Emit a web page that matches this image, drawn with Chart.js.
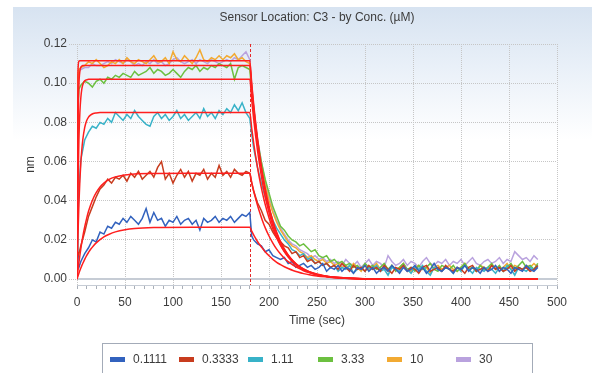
<!DOCTYPE html>
<html><head><meta charset="utf-8">
<script src="https://cdn.jsdelivr.net/npm/chart.js@4"></script>
<style>html,body{margin:0;padding:0;background:#fff;}#wrap{width:592px;height:373px;position:relative;}</style>
</head><body><div id="wrap"><canvas id="c" width="592" height="373"></canvas></div>
<script>
const chartTitle = 'Sensor Location: C3 - by Conc. (\u00b5M)';
const xTitle = 'Time (sec)';
const yTitle = 'nm';
const seriesLabels = ['0.1111', '0.3333', '1.11', '3.33', '10', '30'];
const seriesColors = ['#3262be', '#c83c1e', '#38b2c8', '#6cc040', '#f2aa32', '#b9a2de'];
const fitColor = '#ff1e1e';
const injectionEnd = 180;
const yTickValues = [0, 0.02, 0.04, 0.06, 0.08, 0.10, 0.12];
const xTickValues = [0,10,20,30,40,50,60,70,80,90,100,110,120,130,140,150,160,170,180,190,200,
  210,220,230,240,250,260,270,280,290,300,310,320,330,340,350,360,370,380,390,400,
  410,420,430,440,450,460,470,480,490,500];
const xLabelValues = [0, 50, 100, 150, 200, 250, 300, 350, 400, 450, 500];

// measured sensorgram time base (sec)
const time = [
  0,1,2,4,8,12,16,20,24,28,
  32,36,40,44,48,52,56,60,64,68,
  72,76,80,84,88,92,96,100,104,108,
  112,116,120,124,128,132,136,140,144,148,
  152,156,160,164,168,172,176,180,182,184,
  188,192,196,200,204,208,212,216,220,224,
  228,232,236,240,244,248,252,256,260,264,
  268,272,276,280,284,288,292,296,300,304,
  308,312,316,320,324,328,332,336,340,344,
  348,352,356,360,364,368,372,376,380,384,
  388,392,396,400,404,408,412,416,420,424,
  428,432,436,440,444,448,452,456,460,464,
  468,472,476,480];

const s0111 = [
  0.012,0.009,0.006,0.009,0.013,0.016,0.020,0.019,0.024,0.023,
  0.027,0.026,0.029,0.028,0.031,0.029,0.032,0.030,0.028,0.031,
  0.036,0.029,0.034,0.030,0.031,0.027,0.030,0.029,0.032,0.028,
  0.030,0.031,0.028,0.030,0.025,0.031,0.029,0.030,0.032,0.029,
  0.031,0.030,0.032,0.029,0.031,0.033,0.032,0.034,0.022,0.020,
  0.018,0.017,0.014,0.015,0.012,0.011,0.010,0.011,0.008,0.009,
  0.006,0.007,0.008,0.006,0.007,0.005,0.006,0.008,0.004,0.006,
  0.005,0.007,0.004,0.006,0.005,0.003,0.006,0.005,0.007,0.004,
  0.006,0.003,0.005,0.006,0.004,0.007,0.005,0.003,0.006,0.004,
  0.005,0.007,0.004,0.006,0.003,0.005,0.008,0.005,0.004,0.006,
  0.005,0.003,0.006,0.005,0.007,0.004,0.006,0.005,0.003,0.006,
  0.004,0.005,0.007,0.004,0.006,0.005,0.003,0.006,0.005,0.004,
  0.007,0.005,0.004,0.006];

const s0333 = [
  0.014,0.011,0.013,0.017,0.024,0.032,0.037,0.042,0.046,0.048,
  0.051,0.049,0.052,0.051,0.053,0.050,0.054,0.052,0.055,0.051,
  0.053,0.055,0.052,0.057,0.060,0.051,0.054,0.049,0.053,0.056,
  0.052,0.055,0.050,0.054,0.053,0.056,0.051,0.054,0.052,0.058,
  0.053,0.055,0.052,0.056,0.054,0.053,0.055,0.054,0.049,0.045,
  0.039,0.035,0.030,0.028,0.024,0.021,0.019,0.017,0.016,0.013,
  0.014,0.011,0.012,0.009,0.010,0.008,0.009,0.007,0.008,0.006,
  0.007,0.005,0.008,0.006,0.004,0.007,0.005,0.006,0.004,0.007,
  0.005,0.006,0.004,0.007,0.005,0.003,0.006,0.005,0.007,0.004,
  0.006,0.005,0.003,0.006,0.007,0.004,0.005,0.006,0.004,0.007,
  0.005,0.004,0.006,0.005,0.003,0.006,0.007,0.004,0.005,0.006,
  0.004,0.007,0.005,0.006,0.004,0.005,0.007,0.004,0.006,0.005,
  0.006,0.004,0.005,0.007];

const s111 = [
  0.012,0.032,0.046,0.061,0.071,0.075,0.078,0.077,0.080,0.079,
  0.082,0.080,0.085,0.083,0.081,0.084,0.082,0.086,0.083,0.081,
  0.079,0.078,0.083,0.085,0.082,0.084,0.081,0.083,0.086,0.082,
  0.084,0.081,0.083,0.085,0.082,0.087,0.083,0.085,0.082,0.086,
  0.084,0.087,0.085,0.089,0.086,0.090,0.085,0.082,0.074,0.067,
  0.057,0.049,0.042,0.036,0.030,0.026,0.023,0.020,0.018,0.015,
  0.014,0.012,0.013,0.010,0.011,0.008,0.009,0.007,0.008,0.006,
  0.007,0.004,0.006,0.005,0.007,0.003,0.005,0.006,0.004,0.006,
  0.005,0.007,0.004,0.005,0.002,0.006,0.005,0.004,0.007,0.005,
  0.003,0.006,0.005,0.007,0.004,0.002,0.006,0.005,0.004,0.006,
  0.005,0.003,0.006,0.004,0.007,0.005,0.003,0.006,0.005,0.004,
  0.006,0.005,0.003,0.006,0.004,0.007,0.005,0.002,0.006,0.005,
  0.004,0.006,0.005,0.007];

const s333 = [
  0.030,0.088,0.097,0.099,0.101,0.100,0.098,0.101,0.102,0.100,
  0.103,0.102,0.104,0.103,0.105,0.104,0.103,0.106,0.104,0.105,
  0.106,0.108,0.105,0.107,0.106,0.104,0.105,0.107,0.105,0.103,
  0.106,0.108,0.107,0.109,0.106,0.108,0.107,0.109,0.108,0.110,
  0.109,0.108,0.110,0.102,0.108,0.109,0.108,0.107,0.096,0.085,
  0.071,0.060,0.051,0.044,0.037,0.032,0.027,0.025,0.022,0.020,
  0.019,0.017,0.018,0.016,0.014,0.015,0.012,0.011,0.012,0.009,
  0.010,0.008,0.009,0.007,0.008,0.006,0.007,0.005,0.008,0.006,
  0.007,0.005,0.006,0.008,0.005,0.007,0.004,0.006,0.008,0.005,
  0.006,0.004,0.007,0.005,0.006,0.008,0.005,0.004,0.007,0.006,
  0.005,0.007,0.004,0.006,0.008,0.005,0.006,0.004,0.007,0.005,
  0.006,0.008,0.005,0.007,0.004,0.006,0.008,0.005,0.007,0.009,
  0.006,0.007,0.005,0.008];

const s10 = [
  0.040,0.104,0.107,0.108,0.109,0.111,0.110,0.112,0.110,0.108,
  0.109,0.111,0.110,0.112,0.110,0.113,0.111,0.110,0.112,0.111,
  0.110,0.112,0.114,0.111,0.111,0.113,0.110,0.116,0.112,0.111,
  0.114,0.112,0.110,0.113,0.117,0.112,0.111,0.113,0.112,0.114,
  0.112,0.114,0.113,0.115,0.112,0.113,0.111,0.110,0.098,0.087,
  0.070,0.058,0.048,0.040,0.034,0.029,0.025,0.022,0.019,0.017,
  0.016,0.014,0.013,0.011,0.012,0.010,0.009,0.010,0.008,0.009,
  0.007,0.008,0.006,0.007,0.005,0.008,0.006,0.004,0.007,0.005,
  0.006,0.008,0.005,0.006,0.004,0.007,0.005,0.006,0.008,0.005,
  0.004,0.006,0.007,0.005,0.006,0.003,0.006,0.007,0.005,0.006,
  0.007,0.005,0.004,0.006,0.008,0.005,0.006,0.004,0.007,0.006,
  0.005,0.007,0.006,0.004,0.006,0.008,0.005,0.007,0.006,0.005,
  0.007,0.006,0.008,0.006];

const s30 = [
  0.045,0.103,0.106,0.107,0.108,0.108,0.110,0.109,0.109,0.110,
  0.111,0.110,0.112,0.111,0.110,0.112,0.111,0.109,0.110,0.109,
  0.111,0.110,0.112,0.110,0.111,0.109,0.110,0.112,0.113,0.111,
  0.110,0.111,0.112,0.110,0.112,0.111,0.110,0.112,0.111,0.110,
  0.111,0.112,0.111,0.113,0.112,0.114,0.116,0.112,0.099,0.088,
  0.072,0.060,0.050,0.042,0.035,0.030,0.026,0.023,0.020,0.018,
  0.017,0.015,0.014,0.013,0.011,0.012,0.010,0.011,0.009,0.010,
  0.008,0.009,0.007,0.010,0.008,0.007,0.009,0.006,0.008,0.010,
  0.007,0.009,0.008,0.006,0.012,0.009,0.007,0.008,0.010,0.007,
  0.009,0.008,0.006,0.009,0.011,0.008,0.007,0.009,0.008,0.010,
  0.007,0.009,0.008,0.010,0.007,0.009,0.011,0.008,0.007,0.009,
  0.010,0.008,0.009,0.011,0.008,0.010,0.009,0.014,0.012,0.010,
  0.011,0.009,0.012,0.010];

// fitted curves time base (sec)
const fitTime = [
  0,1,2,3,4,5,6,8,10,12,14,17,20,24,28,33,40,50,60,80,120,180,
  182,184,186,188,190,193,196,200,204,208,212,216,220,225,230,236,242,250,260,270,285,300,330,370,420,480];

const fit0111 = [
  0,0.0015,0.0030,0.0044,0.0057,0.0069,0.0080,0.0101,0.0120,0.0136,0.0151,0.0169,0.0185,0.0202,0.0216,0.0228,0.0241,0.0252,0.0258,0.0263,0.0265,0.0265,
  0.0245,0.0226,0.0209,0.0192,0.0178,0.0158,0.0140,0.0119,0.0101,0.0086,0.0074,0.0063,0.0054,0.0044,0.0036,0.0028,0.0022,0.0016,0.0011,0.0007,0.0004,0.0002,0.0001,0,0,0];
const fit0333 = [
  0,0.0044,0.0084,0.0121,0.0156,0.0187,0.0216,0.0266,0.0309,0.0346,0.0376,0.0413,0.0441,0.0470,0.0490,0.0508,0.0522,0.0532,0.0537,0.0539,0.0540,0.0540,
  0.0494,0.0451,0.0412,0.0377,0.0345,0.0301,0.0263,0.0220,0.0184,0.0153,0.0128,0.0107,0.0089,0.0071,0.0057,0.0043,0.0033,0.0023,0.0015,0.0009,0.0005,0.0002,0.0001,0,0,0];
const fit111 = [
  0,0.0220,0.0384,0.0504,0.0594,0.0660,0.0710,0.0773,0.0808,0.0827,0.0837,0.0845,0.0848,0.0850,0.0850,0.0850,0.0850,0.0850,0.0850,0.0850,0.0850,0.0850,
  0.0769,0.0696,0.0630,0.0570,0.0516,0.0444,0.0382,0.0313,0.0256,0.0210,0.0172,0.0140,0.0115,0.0089,0.0070,0.0052,0.0038,0.0026,0.0015,0.0009,0.0004,0.0002,0,0,0,0];
const fit333 = [
  0,0.0460,0.0713,0.0852,0.0927,0.0969,0.0992,0.1012,0.1017,0.1020,0.1020,0.1020,0.1020,0.1020,0.1020,0.1020,0.1020,0.1020,0.1020,0.1020,0.1020,0.1020,
  0.0914,0.0819,0.0733,0.0657,0.0589,0.0499,0.0423,0.0340,0.0272,0.0218,0.0175,0.0141,0.0113,0.0086,0.0065,0.0047,0.0034,0.0022,0.0013,0.0007,0.0003,0.0001,0,0,0,0];
const fit10 = [
  0,0.0762,0.0991,0.1061,0.1081,0.1087,0.1090,0.1090,0.1090,0.1090,0.1090,0.1090,0.1090,0.1090,0.1090,0.1090,0.1090,0.1090,0.1090,0.1090,0.1090,0.1090,
  0.0977,0.0875,0.0784,0.0702,0.0629,0.0533,0.0452,0.0363,0.0291,0.0233,0.0187,0.0150,0.0121,0.0092,0.0070,0.0050,0.0036,0.0023,0.0013,0.0008,0.0003,0.0002,0,0,0,0];
const fit30 = [
  0,0.1059,0.1112,0.1115,0.1115,0.1115,0.1115,0.1115,0.1115,0.1115,0.1115,0.1115,0.1115,0.1115,0.1115,0.1115,0.1115,0.1115,0.1115,0.1115,0.1115,0.1115,
  0.0999,0.0895,0.0802,0.0718,0.0643,0.0545,0.0463,0.0371,0.0298,0.0239,0.0192,0.0154,0.0124,0.0094,0.0071,0.0051,0.0037,0.0024,0.0014,0.0008,0.0003,0.0002,0,0,0,0];

const measured = [s0111, s0333, s111, s333, s10, s30];
const fits = [fit0111, fit0333, fit111, fit333, fit10, fit30];

const FONT = '"Liberation Sans", Arial, sans-serif';
Chart.defaults.font.family = FONT;
Chart.defaults.font.size = 12;
Chart.defaults.color = '#3c3c3c';

const toPoints = (xs, ys) => ys.map((v, i) => ({x: xs[i], y: v}));

const datasets = [];
fits.forEach((f, i) => datasets.push({
  label: 'fit ' + seriesLabels[i], data: toPoints(fitTime, f), borderColor: fitColor, borderWidth: 1.5,
  pointRadius: 0, cubicInterpolationMode: 'monotone', fill: false, order: 0
}));
measured.forEach((s, i) => datasets.push({
  label: seriesLabels[i], data: toPoints(time, s), borderColor: seriesColors[i], borderWidth: 1.5,
  pointRadius: 0, tension: 0, fill: false, order: i + 1
}));

const bgPlugin = {
  id: 'bg',
  beforeDraw(chart) {
    const ctx = chart.ctx;
    ctx.save();
    ctx.fillStyle = '#ffffff';
    ctx.fillRect(0, 0, chart.width, chart.height);
    const g = ctx.createLinearGradient(0, 7, 0, 140);
    g.addColorStop(0, '#d7e3f1');
    g.addColorStop(0.45, '#e9f0f8');
    g.addColorStop(1, '#ffffff');
    ctx.fillStyle = g;
    ctx.fillRect(13, 7, chart.width - 13, chart.height - 7);
    ctx.restore();
  }
};

const markPlugin = {
  id: 'marks',
  beforeDatasetsDraw(chart) {
    const {ctx, chartArea: a, scales} = chart;
    ctx.save();
    const y0 = scales.y.getPixelForValue(0);
    ctx.strokeStyle = '#c6ccd5';
    ctx.lineWidth = 2;
    ctx.beginPath(); ctx.moveTo(a.left, y0); ctx.lineTo(a.right, y0); ctx.stroke();
    const xs = Math.round(scales.x.getPixelForValue(injectionEnd)) + 0.5;
    ctx.strokeStyle = '#e52a2a';
    ctx.lineWidth = 1;
    ctx.setLineDash([3, 2]);
    ctx.beginPath(); ctx.moveTo(xs, a.top); ctx.lineTo(xs, a.bottom); ctx.stroke();
    ctx.restore();
  },
  afterDraw(chart) {
    const {ctx, chartArea: a} = chart;
    ctx.save();
    ctx.font = '12px ' + FONT;
    ctx.fillStyle = '#3c3c3c';
    ctx.textAlign = 'center';
    ctx.textBaseline = 'middle';
    ctx.fillText(chartTitle, (a.left + a.right) / 2, 18);
    // legend box
    ctx.fillStyle = '#ffffff';
    ctx.fillRect(102, 343, 430, 40);
    ctx.strokeStyle = '#a3abb8';
    ctx.lineWidth = 1;
    ctx.strokeRect(102.5, 343.5, 430, 40);
    ctx.textAlign = 'left';
    seriesLabels.forEach((lab, i) => {
      const x = 110 + i * 69.2;
      ctx.fillStyle = seriesColors[i];
      ctx.fillRect(Math.round(x), 357, 15, 5);
      ctx.fillStyle = '#3c3c3c';
      ctx.fillText(lab, Math.round(x) + 23, 360);
    });
    ctx.restore();
  }
};

new Chart(document.getElementById('c'), {
  type: 'line',
  data: {datasets},
  options: {
    responsive: false,
    animation: false,
    devicePixelRatio: 1,
    layout: {padding: {top: 44, right: 35, bottom: 45, left: 20}},
    plugins: {legend: {display: false}, title: {display: false}, tooltip: {enabled: false}},
    scales: {
      x: {
        type: 'linear', min: 0, max: 500,
        afterBuildTicks: (s) => { s.ticks = xTickValues.map(v => ({value: v})); },
        afterFit: (s) => { s.height = 43; },
        ticks: {
          autoSkip: false, maxRotation: 0, padding: 6, color: '#3c3c3c',
          callback: (v) => xLabelValues.includes(v) ? String(v) : ''
        },
        grid: {
          color: (c) => (c.tick && xLabelValues.includes(c.tick.value)) ? '#c6c6c6' : 'rgba(0,0,0,0)',
          tickColor: '#a9afb8', tickLength: 4, lineWidth: 1
        },
        border: {display: true, color: '#c6ccd5', width: 1, dash: [1, 1]},
        title: {display: true, text: xTitle, padding: {top: 0, bottom: 0}, color: '#3c3c3c', font: {size: 12}}
      },
      y: {
        type: 'linear', min: -0.003, max: 0.12,
        afterBuildTicks: (s) => { s.ticks = yTickValues.map(v => ({value: v})); },
        afterFit: (s) => { s.width = 57; },
        ticks: {padding: 2, color: '#3c3c3c', callback: (v) => v.toFixed(2)},
        grid: {
          color: (c) => (c.tick && c.tick.value === 0) ? 'rgba(0,0,0,0)' : '#c6c6c6',
          tickColor: '#c6c6c6', tickLength: 8, tickBorderDash: [1, 1]
        },
        border: {display: false, dash: [1, 1]},
        title: {display: true, text: yTitle, padding: {top: 3, bottom: 0}, color: '#3c3c3c', font: {size: 12}}
      }
    }
  },
  plugins: [bgPlugin, markPlugin]
});
</script>
</body></html>
